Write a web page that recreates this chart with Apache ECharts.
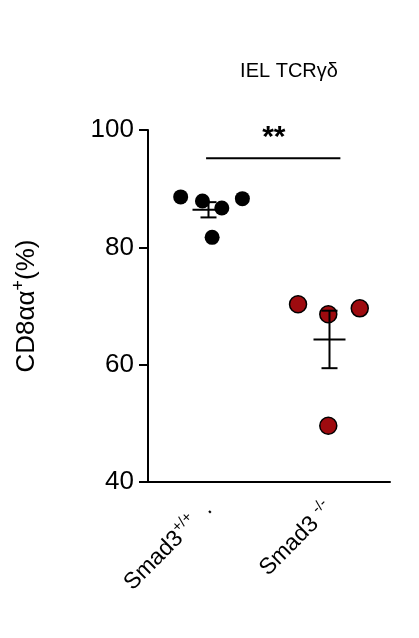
<!DOCTYPE html>
<html lang="en" style="height: 100%">
<head>
<meta charset="utf-8">
<title>IEL TCRgd</title>
</head>
<body style="height: 100%; margin: 0; background: #fff">
<div id="container" style="height: 100%"></div>
<script type="text/javascript" src="https://cdn.jsdelivr.net/npm/echarts/dist/echarts.min.js"></script>
<script type="text/javascript">
var dom = document.getElementById('container');
var myChart = echarts.init(dom);

// Data
var categories = ['wt', 'ko'];
var wtPoints = [[0.27, 88.6], [0.45, 87.9], [0.61, 86.7], [0.78, 88.3], [0.53, 81.7]];
var koPoints = [[1.24, 70.3], [1.49, 68.6], [1.75, 69.6], [1.49, 49.6]];
var groupMeans = [[0.5, 86.4, 1.3], [1.5, 64.3, 4.9]]; // x, mean, sem
var yTicks = [40, 60, 80, 100];

var font = 'Liberation Sans, Arial, sans-serif';

var option = {
  animation: false,
  title: {
    text: 'IEL TCR\u03b3\u03b4',
    left: 284, top: 56, textAlign: 'center',
    textStyle: { fontFamily: font, fontSize: 20, fontWeight: 'normal', color: '#000' }
  },
  grid: { left: 148, right: 29, top: 130, bottom: 156 },
  xAxis: [{
    type: 'category',
    data: categories,
    axisLine: { lineStyle: { color: '#000', width: 2 } },
    axisTick: { alignWithLabel: true, length: 8, lineStyle: { color: '#000', width: 2 } },
    axisLabel: {
      rotate: 45, interval: 0, margin: 24, fontFamily: font, fontSize: 23, color: '#000',
      formatter: function (v) {
        return v === 'wt' ? 'Smad3{s|+/+}  {d|.}' : 'Smad3 {s|-/-}';
      },
      rich: {
        s: { fontSize: 15, verticalAlign: 'top', padding: [0, 0, 14, 0], fontFamily: font, color: '#000' },
        d: { fontSize: 23, fontFamily: font, color: '#000' }
      }
    }
  }, {
    type: 'value', min: 0, max: 2, show: false
  }],
  yAxis: {
    type: 'value', min: 40, max: 100, interval: 20,
    name: 'CD8\u03b1\u03b1{s|+}(%)',
    nameLocation: 'middle', nameGap: 104, nameRotate: 90,
    nameTextStyle: {
      fontFamily: font, fontSize: 26, color: '#000',
      rich: { s: { fontSize: 18, verticalAlign: 'top', padding: [0, 0, 16, 0], fontFamily: font, color: '#000' } }
    },
    axisLine: { show: true, lineStyle: { color: '#000', width: 2 } },
    axisTick: { show: true, length: 9, lineStyle: { color: '#000', width: 2 } },
    splitLine: { show: false },
    axisLabel: {
      fontFamily: font, fontSize: 26, color: '#000', margin: 14,
      formatter: function (v) { return yTicks.indexOf(v) >= 0 ? String(v) : ''; }
    }
  },
  series: [{
    type: 'scatter', xAxisIndex: 1, data: wtPoints, symbolSize: 15,
    itemStyle: { color: '#000', opacity: 1 }, z: 3
  }, {
    type: 'scatter', xAxisIndex: 1, data: koPoints, symbolSize: 17,
    itemStyle: { color: '#9e0b0f', borderColor: '#000', borderWidth: 1.5, opacity: 1 }, z: 3
  }, {
    type: 'custom', xAxisIndex: 1, data: groupMeans, z: 4,
    renderItem: function (params, api) {
      var x = api.value(0), m = api.value(1), s = api.value(2);
      var c = api.coord([x, m]);
      var lo = api.coord([x, m - s]), hi = api.coord([x, m + s]);
      var st = { stroke: '#000', lineWidth: 2 };
      return { type: 'group', children: [
        { type: 'line', shape: { x1: c[0] - 16, y1: c[1], x2: c[0] + 16, y2: c[1] }, style: st },
        { type: 'line', shape: { x1: c[0], y1: lo[1], x2: c[0], y2: hi[1] }, style: st },
        { type: 'line', shape: { x1: c[0] - 8, y1: lo[1], x2: c[0] + 8, y2: lo[1] }, style: st },
        { type: 'line', shape: { x1: c[0] - 8, y1: hi[1], x2: c[0] + 8, y2: hi[1] }, style: st }
      ] };
    }
  }, {
    type: 'line', xAxisIndex: 1, data: [[0.48, 95.2], [1.59, 95.2]],
    symbol: 'none', lineStyle: { color: '#000', width: 2 }, silent: true,
    markPoint: {
      symbol: 'rect', symbolSize: 1, itemStyle: { color: 'transparent' },
      data: [{ coord: [1.04, 98.6], label: { show: true, formatter: '**', fontFamily: font, fontSize: 30, fontWeight: 'bold', color: '#000' } }]
    }
  }]
};

myChart.setOption(option);
window.addEventListener('resize', myChart.resize);
</script>
</body>
</html>
